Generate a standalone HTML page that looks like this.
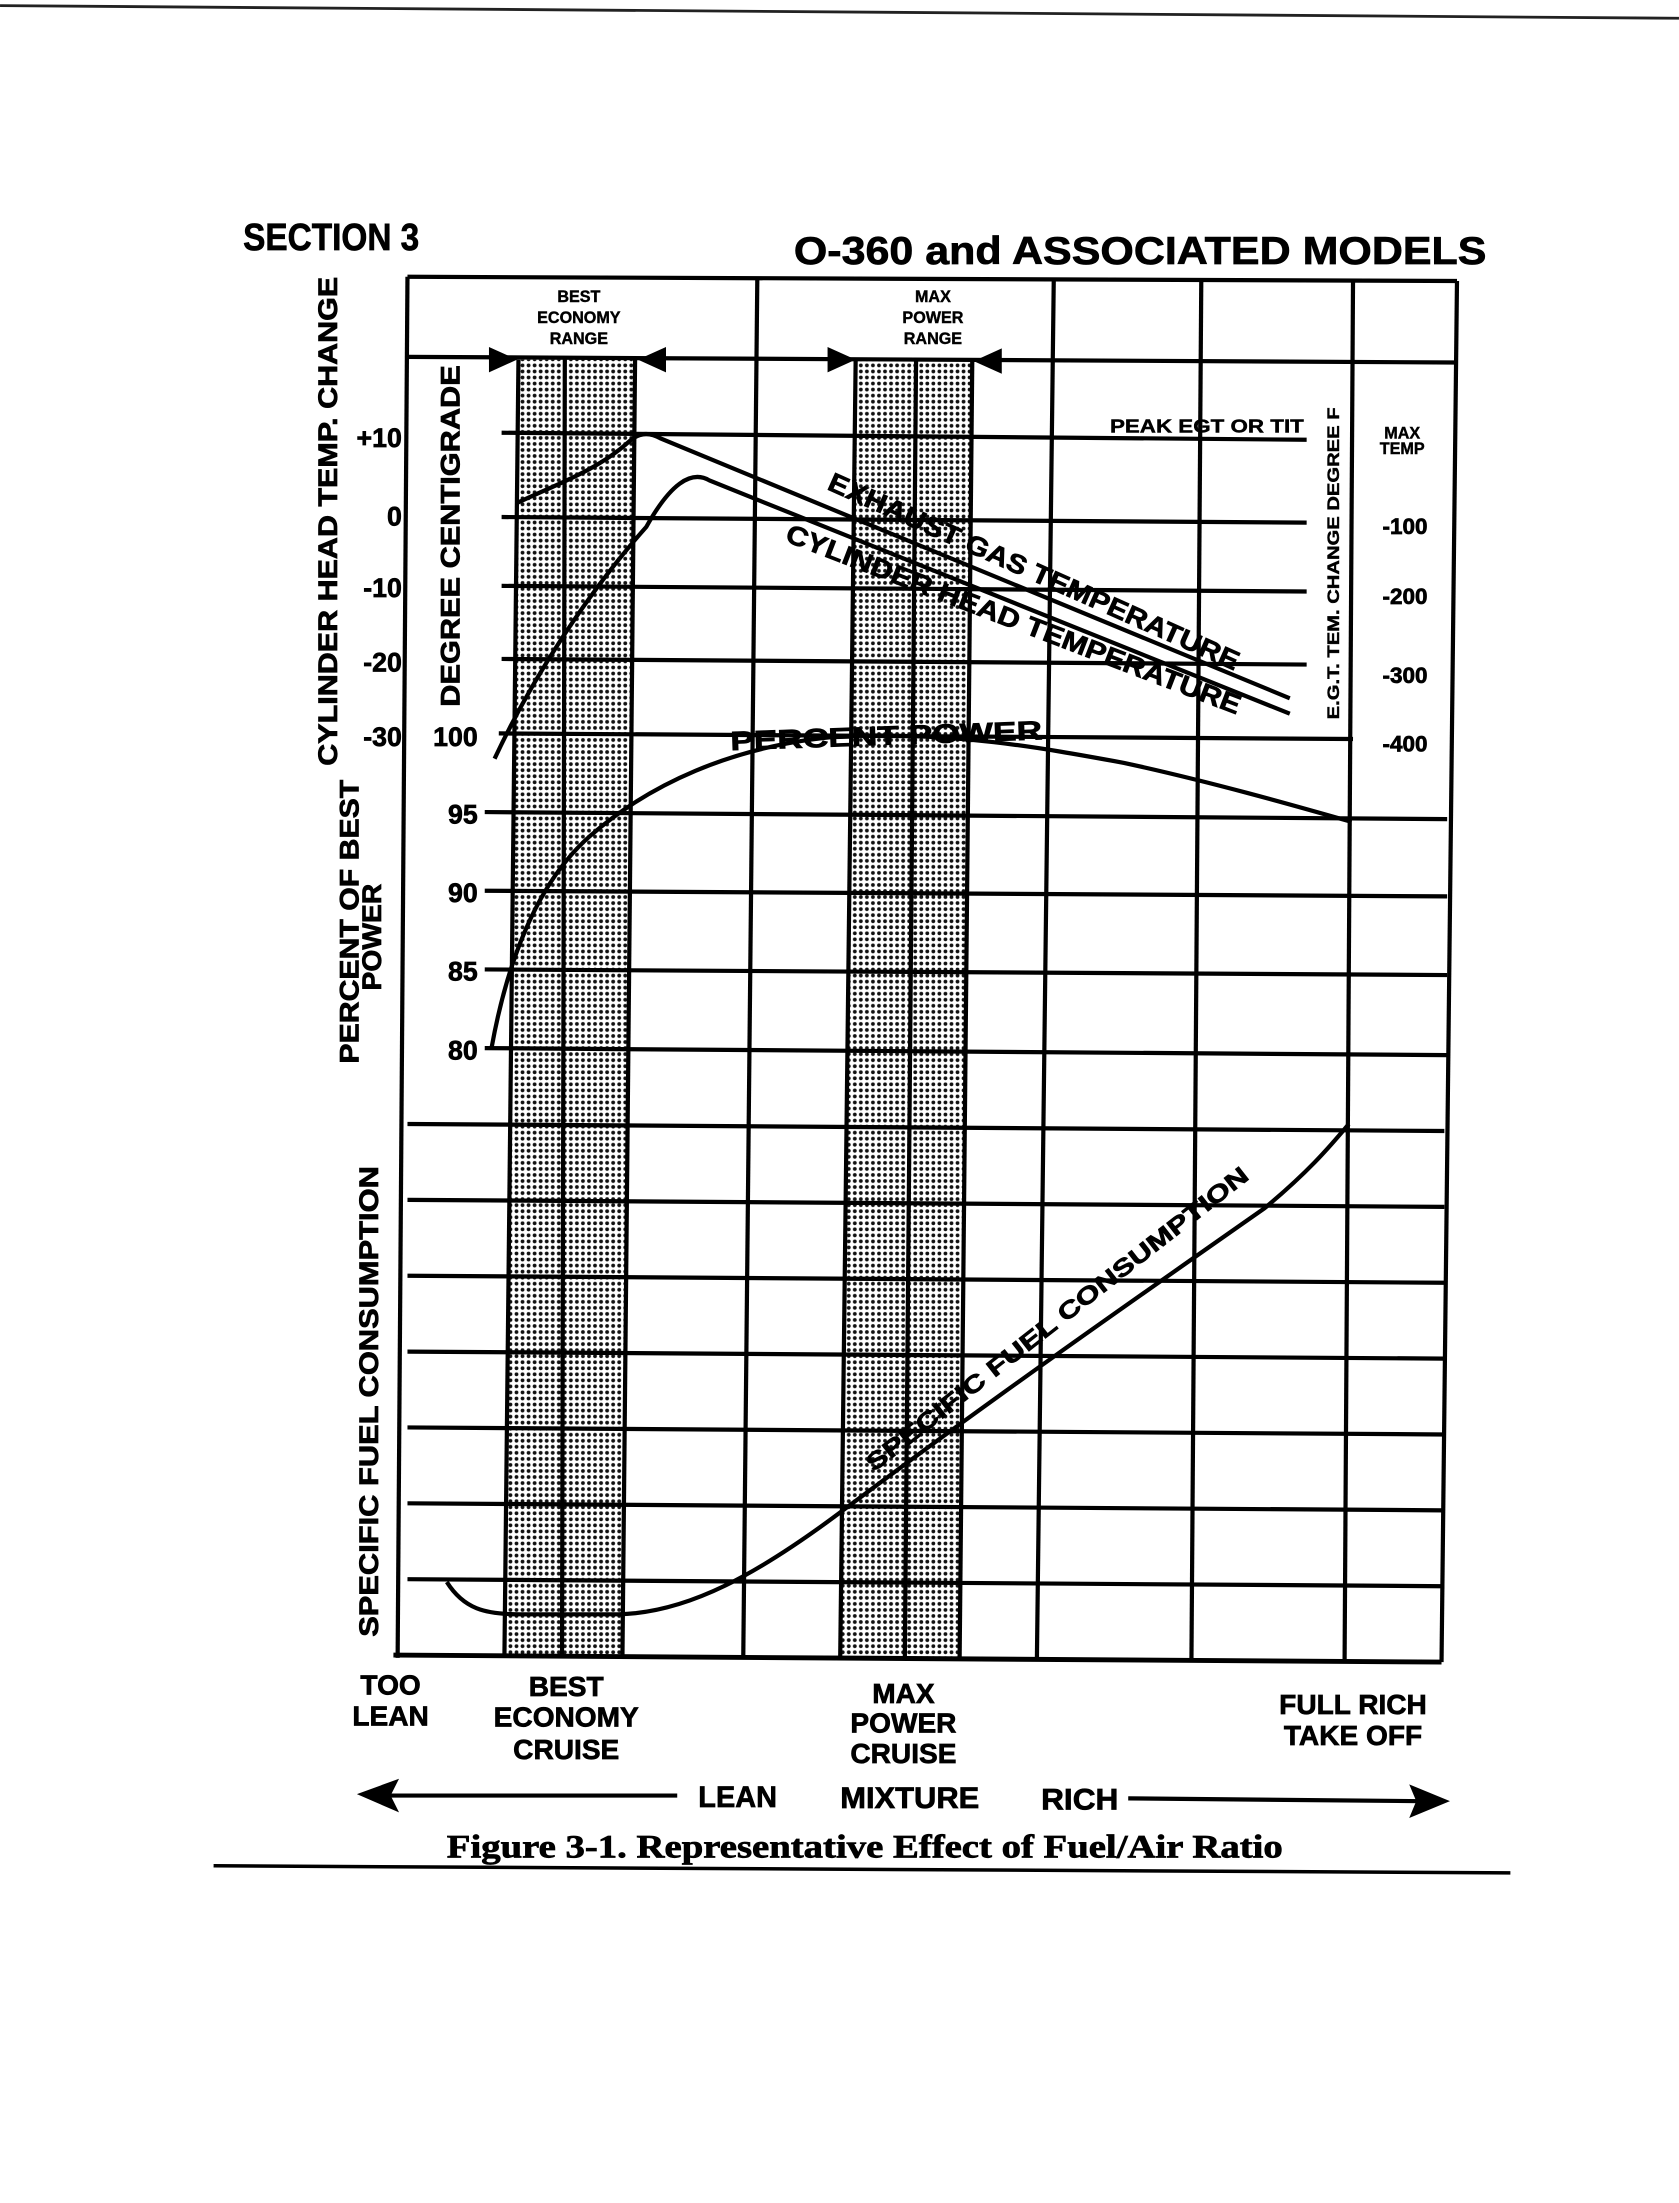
<!DOCTYPE html>
<html><head><meta charset="utf-8"><style>html,body{margin:0;padding:0;background:#fff}svg{display:block}</style></head>
<body>
<svg width="1679" height="2203" viewBox="0 0 1195 1568" xmlns="http://www.w3.org/2000/svg" font-family="Liberation Sans, sans-serif" font-weight="bold">
<defs>
<pattern id="dots" width="4.3" height="4.3" patternUnits="userSpaceOnUse">
<rect width="4.3" height="4.3" fill="#fff"/><circle cx="2.1" cy="2.1" r="1.35" fill="#111"/>
</pattern>
</defs>
<rect width="1195" height="1568" fill="#fff"/>
<line x1="0" y1="4" x2="1195" y2="13" stroke="#222" stroke-width="2"/>
<g stroke="#000" stroke-width="0.5">
<text x="173" y="178" font-size="27" transform="translate(173 0) scale(0.88 1) translate(-173 0)">SECTION 3</text>
<text x="565" y="188" font-size="28" textLength="493" lengthAdjust="spacingAndGlyphs">O-360 and ASSOCIATED MODELS</text>
</g>

<!-- bands -->
<polygon points="369,256 452,256 443,1180 359,1180" fill="url(#dots)"/>
<polygon points="609,256 692,256 683,1180 598,1180" fill="url(#dots)"/>
<g stroke="#000" stroke-width="3" fill="none">
<line x1="369" y1="256" x2="359" y2="1180"/><line x1="452" y1="256" x2="443" y2="1180"/>
<line x1="402" y1="256" x2="400" y2="1180"/>
<line x1="609" y1="256" x2="598" y2="1180"/><line x1="692" y1="256" x2="683" y2="1180"/>
<line x1="652" y1="256" x2="644" y2="1180"/>
<!-- frame -->
<line x1="290" y1="197" x2="1037" y2="200" stroke-width="3"/>
<line x1="290" y1="197" x2="283" y2="1180" stroke-width="3"/>
<line x1="1037" y1="200" x2="1026" y2="1183" stroke-width="3"/>
<line x1="280" y1="1178" x2="1026" y2="1183" stroke-width="3.5"/>
<line x1="290" y1="254" x2="1035" y2="258" stroke-width="3"/>
<line x1="539" y1="198" x2="529" y2="1180"/>
<line x1="750" y1="199" x2="738" y2="1181"/>
<line x1="855" y1="199" x2="848" y2="1181"/>
<line x1="963" y1="200" x2="957" y2="1182"/>
<!-- temp lines -->
<line x1="357" y1="308" x2="930" y2="313"/>
<line x1="357" y1="368" x2="930" y2="372"/>
<line x1="357" y1="417" x2="930" y2="421"/>
<line x1="357" y1="469" x2="930" y2="473"/>
<line x1="355" y1="522" x2="963" y2="526"/>
<line x1="345" y1="578" x2="1030" y2="583"/>
<line x1="345" y1="634" x2="1030" y2="638"/>
<line x1="345" y1="690" x2="1030" y2="694"/>
<line x1="345" y1="746" x2="1030" y2="751"/>
<line x1="290" y1="800" x2="1028" y2="805"/>
<line x1="290" y1="854" x2="1028" y2="859"/>
<line x1="290" y1="908" x2="1028" y2="913"/>
<line x1="290" y1="962" x2="1028" y2="967"/>
<line x1="290" y1="1016" x2="1028" y2="1021"/>
<line x1="290" y1="1070" x2="1028" y2="1075"/>
<line x1="290" y1="1124" x2="1028" y2="1129"/>
<!-- curves -->
<path d="M368,358 C395,345 425,335 448,314 Q458,305 470,312 L918,497"/>
<path d="M352,540 C380,480 420,420 460,375 Q485,330 505,342 L918,508"/>
<path d="M350,745 C360,690 380,630 420,595 C460,560 520,530 600,524 C680,521 740,532 800,543 C860,556 920,573 962,585"/>
<path d="M318,1126 C330,1145 345,1149 370,1149 L440,1149 C490,1148 540,1120 600,1075 C700,1000 800,930 900,860 C930,835 945,818 960,800"/>
</g>
<!-- arrow heads -->
<g fill="#000">
<polygon points="348,247 368,256 348,265"/><polygon points="474,247 454,256 474,265"/>
<polygon points="589,247 609,256 589,265"/><polygon points="713,248 693,257 713,266"/>
</g>
<g stroke="#000" stroke-width="0.5">
<g font-size="11.5" text-anchor="middle" stroke-width="0.3">
<text x="412" y="215">BEST</text><text x="412" y="230">ECONOMY</text><text x="412" y="245">RANGE</text>
<text x="664" y="215">MAX</text><text x="664" y="230">POWER</text><text x="664" y="245">RANGE</text>
</g>
<text x="790" y="308" font-size="13" textLength="138" lengthAdjust="spacingAndGlyphs" stroke-width="0.3">PEAK EGT OR TIT</text>
<text x="998" y="312" font-size="11.5" text-anchor="middle" stroke-width="0.3">MAX</text>
<text x="998" y="323" font-size="11.5" text-anchor="middle" stroke-width="0.3">TEMP</text>
<g font-size="16" text-anchor="middle">
<text x="1000" y="380">-100</text><text x="1000" y="430">-200</text><text x="1000" y="486">-300</text><text x="1000" y="535">-400</text>
</g>
<text transform="translate(953 512) rotate(-90)" font-size="11.5" textLength="222" lengthAdjust="spacingAndGlyphs" stroke-width="0.3">E.G.T. TEM. CHANGE DEGREE F</text>
<g font-size="19" text-anchor="end">
<text x="286" y="318">+10</text><text x="286" y="374">0</text><text x="286" y="425">-10</text><text x="286" y="478">-20</text><text x="286" y="531">-30</text>
<text x="340" y="531">100</text><text x="340" y="586">95</text><text x="340" y="642">90</text><text x="340" y="698">85</text><text x="340" y="754">80</text>
</g>
<text transform="translate(240 545) rotate(-90)" font-size="19" textLength="348" lengthAdjust="spacingAndGlyphs">CYLINDER HEAD TEMP. CHANGE</text>
<text transform="translate(327 503) rotate(-90)" font-size="19" textLength="243" lengthAdjust="spacingAndGlyphs">DEGREE CENTIGRADE</text>
<text transform="translate(255 757) rotate(-90)" font-size="19" textLength="202" lengthAdjust="spacingAndGlyphs">PERCENT OF BEST</text>
<text transform="translate(271 705) rotate(-90)" font-size="19" textLength="76" lengthAdjust="spacingAndGlyphs">POWER</text>
<text transform="translate(269 1165) rotate(-90)" font-size="19" textLength="335" lengthAdjust="spacingAndGlyphs">SPECIFIC FUEL CONSUMPTION</text>
<!-- curve labels -->
<text transform="translate(588 348) rotate(24)" font-size="19" textLength="318" lengthAdjust="spacingAndGlyphs">EXHAUST GAS TEMPERATURE</text>
<text transform="translate(558 385) rotate(21)" font-size="19" textLength="345" lengthAdjust="spacingAndGlyphs">CYLINDER HEAD TEMPERATURE</text>
<text transform="translate(520 534) rotate(-2)" font-size="19" textLength="222" lengthAdjust="spacingAndGlyphs">PERCENT POWER</text>
<text transform="translate(622 1048) rotate(-38)" font-size="17" textLength="340" lengthAdjust="spacingAndGlyphs">SPECIFIC FUEL CONSUMPTION</text>
<!-- bottom -->
<g font-size="20" text-anchor="middle">
<text x="278" y="1206">TOO</text><text x="278" y="1228">LEAN</text>
<text x="403" y="1207">BEST</text><text x="403" y="1229">ECONOMY</text><text x="403" y="1252">CRUISE</text>
<text x="643" y="1212">MAX</text><text x="643" y="1233">POWER</text><text x="643" y="1255">CRUISE</text>
<text x="963" y="1220">FULL RICH</text><text x="963" y="1242">TAKE OFF</text>
</g>
<text x="497" y="1286" font-size="21" textLength="56" lengthAdjust="spacingAndGlyphs">LEAN</text>
<text x="598" y="1287" font-size="21" textLength="99" lengthAdjust="spacingAndGlyphs">MIXTURE</text>
<text x="741" y="1288" font-size="21" textLength="55" lengthAdjust="spacingAndGlyphs">RICH</text>
<text x="318" y="1322" font-size="23" font-family="Liberation Serif, serif" textLength="595" lengthAdjust="spacingAndGlyphs">Figure 3-1. Representative Effect of Fuel/Air Ratio</text>
</g>
<line x1="270" y1="1278" x2="482" y2="1278" stroke="#000" stroke-width="3"/>
<polygon points="254,1277 284,1266 278,1278 284,1290" fill="#000"/>
<line x1="803" y1="1280" x2="1012" y2="1282" stroke="#000" stroke-width="3"/>
<polygon points="1032,1282 1003,1270 1008,1282 1003,1294" fill="#000"/>
<line x1="152" y1="1328" x2="1075" y2="1333" stroke="#000" stroke-width="2.5"/>
</svg>
</body></html>
